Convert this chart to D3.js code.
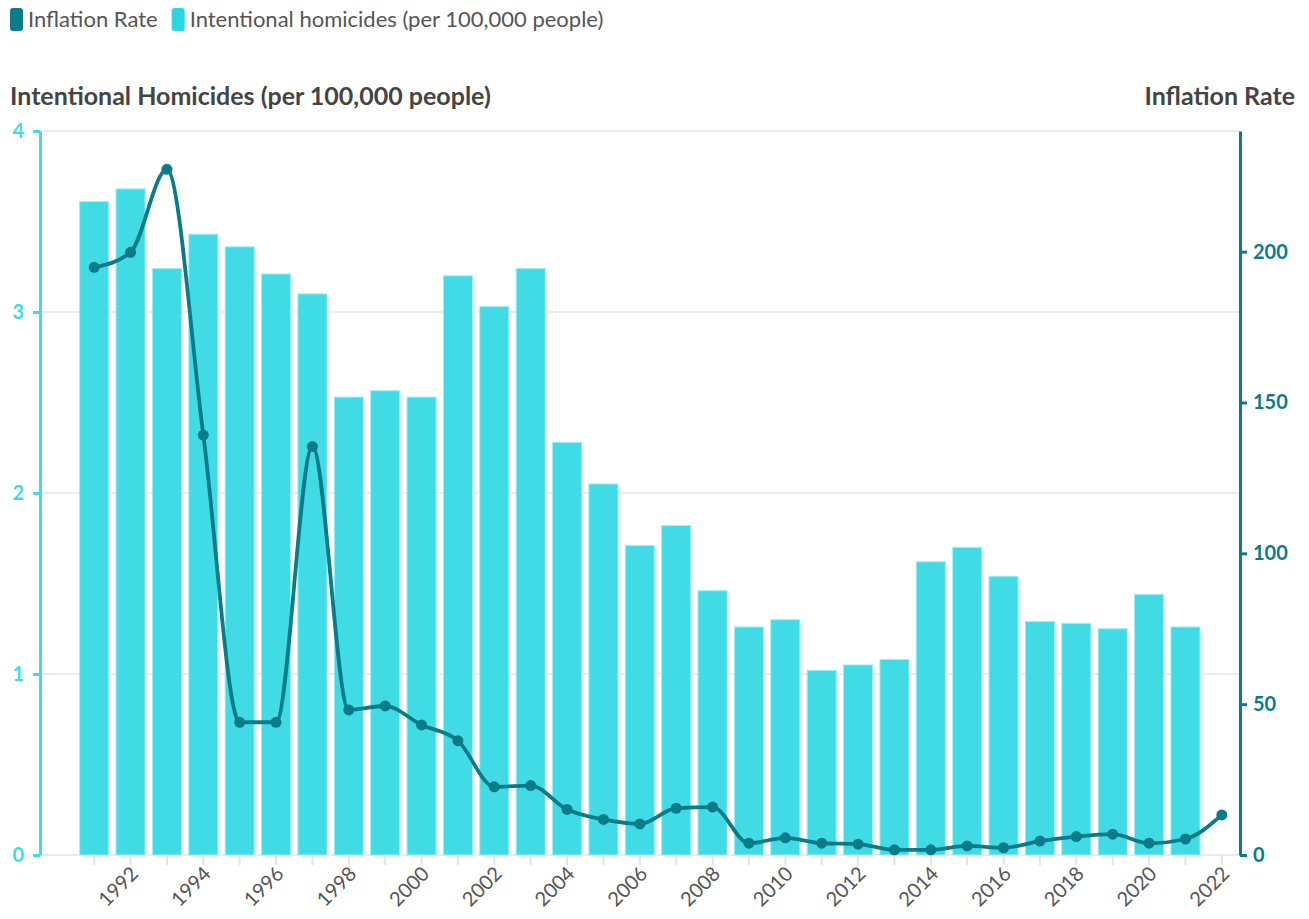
<!DOCTYPE html>
<html>
<head>
<meta charset="utf-8">
<script src="https://cdn.jsdelivr.net/npm/d3@7"></script>
<style>
  html, body { margin: 0; padding: 0; background: #fff; }
  svg { display: block; font-family: Lato, "Noto Sans", sans-serif; }
</style>
</head>
<body>
<svg id="chart" width="1309" height="919"></svg>
<script>
// Years on the category axis
const years = d3.range(1991, 2023);

// Intentional homicides per 100,000 people (no value for 2022)
const homicides = [3.61, 3.68, 3.24, 3.43, 3.36, 3.21, 3.10, 2.53, 2.565, 2.53,
  3.20, 3.03, 3.24, 2.28, 2.05, 1.71, 1.82, 1.46, 1.26, 1.30,
  1.02, 1.05, 1.08, 1.62, 1.70, 1.54, 1.29, 1.28, 1.25, 1.44,
  1.26];

// Inflation rate (%)
const inflation = [194.8, 199.8, 227.3, 139.2, 44.0, 44.0, 135.4, 48.1, 49.4, 43.1,
  37.9, 22.6, 23.0, 15.1, 11.8, 10.3, 15.5, 15.9, 3.9, 5.7,
  3.9, 3.6, 1.7, 1.7, 3.0, 2.4, 4.6, 6.1, 6.9, 3.9,
  5.3, 13.3];

const leftTicks = [0, 1, 2, 3, 4];
const rightTicks = [0, 50, 100, 150, 200];

const barColor = "#41dbe5";
const lineColor = "#0a7c89";
const font = "Lato, 'Noto Sans', sans-serif";

const svg = d3.select("#chart");
const plotLeft = 40, plotRight = 1240, plotTop = 131, plotBottom = 855;

const x = d3.scaleBand().domain(years).range([76, plotRight]).paddingInner(0.2).paddingOuter(0.1);
const yL = d3.scaleLinear().domain([0, 4]).range([plotBottom, plotTop]);
const yR = d3.scaleLinear().domain([0, 240]).range([plotBottom, plotTop]);
const cx = d => x(d) + x.bandwidth() / 2;

// Legend
const legend = svg.append("g").attr("transform", "translate(10,8)");
const legendItems = [
  { label: "Inflation Rate", color: lineColor },
  { label: "Intentional homicides (per 100,000 people)", color: "#2ad6e2" }
];
let lx = 0;
legendItems.forEach(item => {
  const g = legend.append("g").attr("transform", `translate(${lx},0)`);
  g.append("rect").attr("width", 13).attr("height", 23).attr("rx", 3).attr("fill", item.color);
  const t = g.append("text").attr("x", 18).attr("y", 19)
    .attr("font-size", 22).attr("fill", "#555").text(item.label);
  lx += 18 + t.node().getComputedTextLength() + 14;
});

// Axis titles
svg.append("text").attr("x", 10).attr("y", 105)
  .attr("font-size", 25).attr("font-weight", 700).attr("fill", "#444")
  .text("Intentional Homicides (per 100,000 people)");
svg.append("text").attr("x", 1295).attr("y", 105).attr("text-anchor", "end")
  .attr("font-size", 25).attr("font-weight", 700).attr("fill", "#444")
  .text("Inflation Rate");

// Gridlines
svg.append("g").selectAll("line").data(leftTicks).join("line")
  .attr("x1", plotLeft).attr("x2", plotRight)
  .attr("y1", d => yL(d)).attr("y2", d => yL(d))
  .attr("stroke", "#ebebeb").attr("stroke-width", 2);

// X axis ticks and labels
const xAxis = svg.append("g").attr("transform", `translate(0,${plotBottom})`)
  .call(d3.axisBottom(x).tickSize(10).tickSizeOuter(0)
    .tickFormat(d => (d % 2 === 0 ? d : "")));
xAxis.select(".domain").remove();
xAxis.selectAll(".tick line").attr("stroke", "#e3e3e3").attr("stroke-width", 2);
xAxis.selectAll(".tick text")
  .attr("font-family", font)
  .attr("font-size", 20).attr("fill", "#555")
  .attr("text-anchor", "end")
  .attr("dy", null).attr("y", null)
  .attr("transform", "translate(9,20) rotate(-45)");

// Bars
svg.append("g").selectAll("rect").data(homicides).join("rect")
  .attr("x", (d, i) => x(years[i]))
  .attr("width", x.bandwidth())
  .attr("y", d => yL(d))
  .attr("height", d => yL(0) - yL(d))
  .attr("fill", barColor)
  .attr("stroke", "#9eeff4").attr("stroke-width", 1);

// Left axis
const gL = svg.append("g").attr("transform", `translate(${plotLeft},0)`)
  .call(d3.axisLeft(yL).tickValues(leftTicks).tickFormat(d3.format("d"))
    .tickSize(7).tickSizeOuter(0).tickPadding(9));
gL.select(".domain").attr("stroke", "#41dbe5").attr("stroke-width", 3);
gL.selectAll(".tick line").attr("stroke", "#41dbe5").attr("stroke-width", 3);
gL.selectAll(".tick text").attr("fill", "#41dbe5").attr("font-size", 20)
  .attr("font-weight", 700).attr("font-family", font);

// Right axis
const gR = svg.append("g").attr("transform", `translate(${plotRight},0)`)
  .call(d3.axisRight(yR).tickValues(rightTicks).tickFormat(d3.format("d"))
    .tickSize(7).tickSizeOuter(0).tickPadding(6));
gR.select(".domain").attr("stroke", lineColor).attr("stroke-width", 3);
gR.selectAll(".tick line").attr("stroke", lineColor).attr("stroke-width", 3);
gR.selectAll(".tick text").attr("fill", lineColor).attr("font-size", 20)
  .attr("font-weight", 700).attr("font-family", font);

// Inflation line with markers
const line = d3.line()
  .x((d, i) => cx(years[i]))
  .y(d => yR(d))
  .curve(d3.curveMonotoneX);
svg.append("path").datum(inflation)
  .attr("d", line).attr("fill", "none")
  .attr("stroke", lineColor).attr("stroke-width", 3.8)
  .attr("stroke-linejoin", "round");
svg.append("g").selectAll("circle").data(inflation).join("circle")
  .attr("cx", (d, i) => cx(years[i]))
  .attr("cy", d => yR(d))
  .attr("r", 5.5)
  .attr("fill", lineColor);
</script>
</body>
</html>
